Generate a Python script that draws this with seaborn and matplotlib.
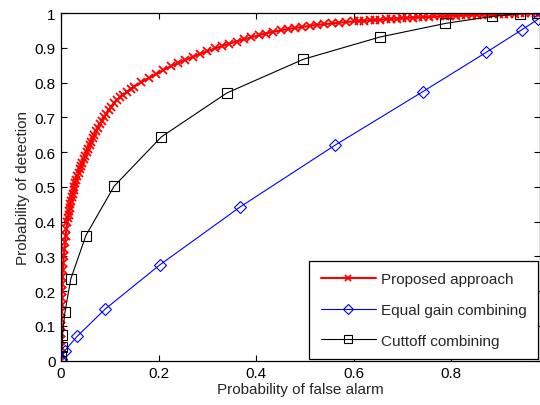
import matplotlib
matplotlib.use("Agg")
import matplotlib.pyplot as plt
import seaborn as sns
import pandas as pd

# Proposed approach (red x)
prop_x = [0.0, 0.0, 0.0001, 0.0002, 0.0003, 0.0005, 0.0007, 0.0009, 0.0012, 0.0015,
          0.0019, 0.0024, 0.0030, 0.0037, 0.0045, 0.0055, 0.0067, 0.0080, 0.0095, 0.0112,
          0.0132, 0.0143, 0.0155, 0.0167, 0.0180, 0.0194, 0.0208, 0.0224, 0.0240, 0.0257,
          0.0275, 0.0295, 0.0315, 0.0337, 0.0360, 0.0385, 0.0410, 0.0437, 0.0465, 0.0495,
          0.0525, 0.0555, 0.0585, 0.0615, 0.0648, 0.0682, 0.0718, 0.0755, 0.0795, 0.0838,
          0.0883, 0.0930, 0.0980, 0.1035, 0.1090, 0.1145,
          0.1205, 0.1275, 0.135, 0.1425, 0.15, 0.165, 0.18, 0.195, 0.21, 0.225, 0.24, 0.255,
          0.27, 0.285,
          0.30, 0.315, 0.33, 0.345, 0.36, 0.375, 0.39, 0.405, 0.42, 0.435, 0.45, 0.465,
          0.48, 0.495, 0.51, 0.525, 0.54, 0.555, 0.57, 0.585, 0.60,
          0.611, 0.622, 0.633, 0.644, 0.655, 0.666, 0.677, 0.688, 0.699, 0.710, 0.721,
          0.732, 0.743, 0.754, 0.765, 0.776, 0.787, 0.798, 0.809, 0.820, 0.831, 0.842,
          0.853, 0.864, 0.875, 0.886, 0.897, 0.908, 0.919, 0.930, 0.941, 0.952, 0.963,
          0.974, 0.982]
prop_y = [0.0, 0.02, 0.04, 0.06, 0.08, 0.10, 0.12, 0.14, 0.16, 0.18,
          0.20, 0.22, 0.24, 0.26, 0.28, 0.30, 0.32, 0.34, 0.36, 0.38,
          0.40, 0.41, 0.42, 0.43, 0.44, 0.45, 0.46, 0.47, 0.48, 0.49,
          0.50, 0.51, 0.52, 0.53, 0.54, 0.55, 0.56, 0.57, 0.58, 0.59,
          0.60, 0.61, 0.62, 0.63, 0.64, 0.65, 0.66, 0.67, 0.68, 0.69,
          0.70, 0.71, 0.72, 0.73, 0.74, 0.749,
          0.757, 0.765, 0.773, 0.781, 0.788, 0.801, 0.813, 0.824, 0.836, 0.847, 0.856, 0.865,
          0.874, 0.882,
          0.890, 0.898, 0.905, 0.912, 0.918, 0.924, 0.930, 0.936, 0.941, 0.946, 0.950, 0.954,
          0.957, 0.960, 0.963, 0.966, 0.968, 0.970, 0.972, 0.974, 0.976,
          0.977, 0.978, 0.979, 0.980, 0.981, 0.982, 0.983, 0.984, 0.985, 0.986, 0.987,
          0.988, 0.988, 0.989, 0.990, 0.990, 0.991, 0.992, 0.992, 0.993, 0.994, 0.994,
          0.995, 0.995, 0.996, 0.996, 0.997, 0.997, 0.998, 0.998, 0.999, 0.999, 1.000,
          1.000, 1.000]

# Equal gain combining (blue diamonds)
egc_x = [0.0, 0.001, 0.008, 0.033, 0.091, 0.202, 0.367, 0.562, 0.742, 0.872, 0.945, 0.978]
egc_y = [0.0, 0.005, 0.029, 0.070, 0.149, 0.275, 0.442, 0.620, 0.774, 0.887, 0.952, 0.982]

# Cuttoff combining (black squares)
cut_x = [0.0, 0.001, 0.002, 0.003, 0.008, 0.020, 0.051, 0.109, 0.206, 0.340, 0.497, 0.654, 0.788, 0.883, 0.941, 0.975]
cut_y = [0.0, 0.014, 0.040, 0.074, 0.139, 0.235, 0.360, 0.502, 0.644, 0.770, 0.867, 0.931, 0.970, 0.990, 0.998, 1.000]

labels = ["Proposed approach", "Equal gain combining", "Cuttoff combining"]
x_ticks = [0, 0.2, 0.4, 0.6, 0.8]
x_ticklabels = ["0", "0.2", "0.4", "0.6", "0.8"]
y_ticks = [0, 0.1, 0.2, 0.3, 0.4, 0.5, 0.6, 0.7, 0.8, 0.9, 1]
y_ticklabels = ["0", "0.1", "0.2", "0.3", "0.4", "0.5", "0.6", "0.7", "0.8", "0.9", "1"]

sns.set_style("ticks")
plt.rcParams['font.family'] = ['Liberation Sans', 'DejaVu Sans']

FS = 11

fig = plt.figure(figsize=(5.4, 4.06), dpi=100)
ax = fig.add_axes([61/540, 1 - 361.7/406, 479/540, (361.7 - 14)/406])

df_p = pd.DataFrame({"x": prop_x, "y": prop_y})
df_e = pd.DataFrame({"x": egc_x, "y": egc_y})
df_c = pd.DataFrame({"x": cut_x, "y": cut_y})

sns.lineplot(data=df_p, x="x", y="y", ax=ax, sort=False, estimator=None, color="#ff0000",
             lw=1.5, marker="x", markersize=5.5, mew=1.3, mec="#ff0000", label=labels[0])
sns.lineplot(data=df_e, x="x", y="y", ax=ax, sort=False, estimator=None, color="#0000ff",
             lw=0.8, marker="D", markersize=6.5, mfc="none", mec="#0000ff", mew=0.8,
             label=labels[1])
sns.lineplot(data=df_c, x="x", y="y", ax=ax, sort=False, estimator=None, color="black",
             lw=0.8, marker="s", markersize=6.5, mfc="none", mec="black", mew=0.8,
             label=labels[2])

ax.set_xlim(0, 0.982)
ax.set_ylim(0, 1)
ax.set_xticks(x_ticks)
ax.set_xticklabels(x_ticklabels)
ax.set_yticks(y_ticks)
ax.set_yticklabels(y_ticklabels)
ax.tick_params(direction="in", top=True, right=True, labelsize=FS, length=4, width=0.8,
               colors="black", pad=4)
for s in ax.spines.values():
    s.set_visible(True)
    s.set_linewidth(0.9)
    s.set_color("black")
ax.set_xlabel("Probability of false alarm", fontsize=FS, labelpad=1)
ax.set_ylabel("Probability of detection", fontsize=FS, labelpad=3)

leg = ax.legend(loc="lower right", bbox_to_anchor=(1.0, 0.0), borderaxespad=0.1,
                fontsize=FS, frameon=True, fancybox=False, handlelength=3.6,
                labelspacing=1.1, borderpad=0.75, handletextpad=0.35, markerscale=0.8)
leg.get_frame().set_edgecolor("black")
leg.get_frame().set_linewidth(0.9)
leg.get_frame().set_alpha(1)

fig.savefig("out.png", dpi=100)
